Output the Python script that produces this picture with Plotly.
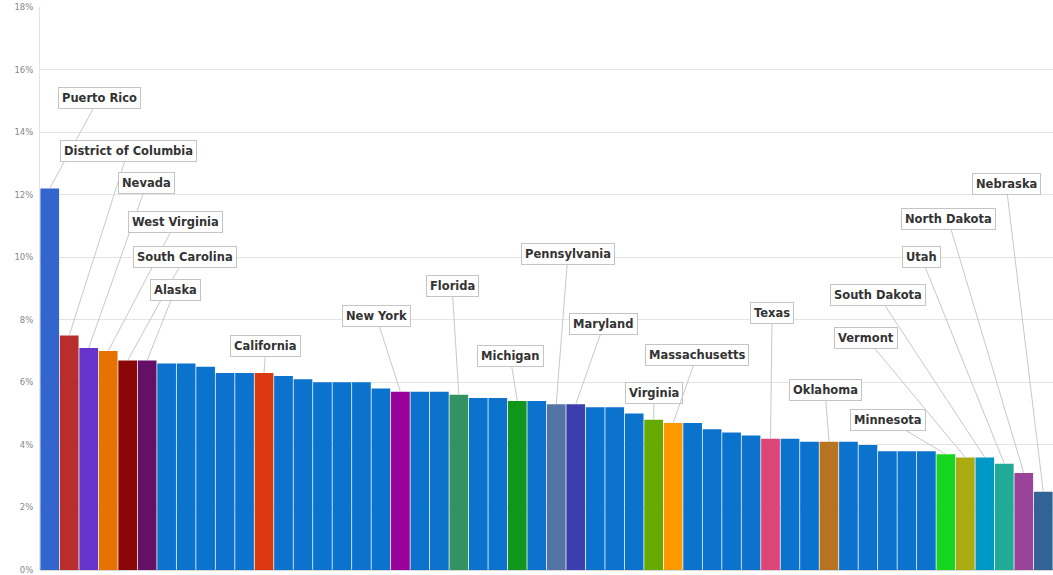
import plotly.graph_objects as go

states = [
    "Puerto Rico", "District of Columbia", "Nevada", "West Virginia", "South Carolina",
    "Alaska", "Mississippi", "Louisiana", "New Mexico", "Arizona", "Georgia",
    "California", "Alabama", "Illinois", "Oregon", "Tennessee", "Kentucky",
    "Rhode Island", "New York", "Connecticut", "Washington", "Florida", "New Jersey",
    "North Carolina", "Michigan", "Ohio", "Pennsylvania", "Maryland", "Indiana",
    "Delaware", "Missouri", "Virginia", "Massachusetts", "Arkansas", "Wisconsin",
    "Colorado", "Maine", "Texas", "Montana", "Kansas", "Oklahoma", "Wyoming",
    "Idaho", "Hawaii", "Iowa", "New Hampshire", "Minnesota", "Vermont",
    "South Dakota", "Utah", "North Dakota", "Nebraska",
]

rates = [
    12.2, 7.5, 7.1, 7.0, 6.7, 6.7, 6.6, 6.6, 6.5, 6.3, 6.3,
    6.3, 6.2, 6.1, 6.0, 6.0, 6.0, 5.8, 5.7, 5.7, 5.7, 5.6, 5.5,
    5.5, 5.4, 5.4, 5.3, 5.3, 5.2, 5.2, 5.0, 4.8, 4.7, 4.7, 4.5,
    4.4, 4.3, 4.2, 4.2, 4.1, 4.1, 4.1, 4.0, 3.8, 3.8, 3.8, 3.7,
    3.6, 3.6, 3.4, 3.1, 2.5,
]

highlight_colors = {
    "Puerto Rico": "#3366cc", "District of Columbia": "#b82e2e", "Nevada": "#6633cc",
    "West Virginia": "#e67300", "South Carolina": "#8b0707", "Alaska": "#651067",
    "California": "#dc3912", "New York": "#990099", "Florida": "#329262",
    "Michigan": "#109618", "Pennsylvania": "#5574a6", "Maryland": "#3b3eac",
    "Virginia": "#66aa00", "Massachusetts": "#ff9900", "Texas": "#dd4477",
    "Oklahoma": "#b77322", "Minnesota": "#16d620", "Vermont": "#aaaa11",
    "South Dakota": "#0099c6", "Utah": "#22aa99", "North Dakota": "#994499",
    "Nebraska": "#316395",
}
default_color = "#0b72ce"

y_tick_vals = [0, 2, 4, 6, 8, 10, 12, 14, 16, 18]
y_tick_text = ["0%", "2%", "4%", "6%", "8%", "10%", "12%", "14%", "16%", "18%"]

# label box positions (layout): category-index x, percent y
label_pos = {
    "Puerto Rico": (2.53, 15.09), "District of Columbia": (4.02, 13.40),
    "Nevada": (4.99, 12.37), "West Virginia": (6.48, 11.13),
    "South Carolina": (6.94, 10.01), "Alaska": (6.43, 8.95),
    "California": (11.10, 7.16), "New York": (16.75, 8.12),
    "Florida": (20.65, 9.08), "Michigan": (23.63, 6.84),
    "Pennsylvania": (26.60, 10.10), "Maryland": (28.45, 7.86),
    "Massachusetts": (33.23, 6.87), "Virginia": (31.02, 5.66),
    "Texas": (37.08, 8.22), "Oklahoma": (39.80, 5.75),
    "Minnesota": (43.03, 4.80), "Vermont": (41.90, 7.42),
    "South Dakota": (42.52, 8.79), "Utah": (44.73, 10.01),
    "North Dakota": (46.11, 11.22), "Nebraska": (49.09, 12.34),
}

colors = [highlight_colors.get(s, default_color) for s in states]

fig = go.Figure(go.Bar(
    x=states, y=rates, marker=dict(color=colors, line=dict(width=0)),
    hovertemplate="%{x}: %{y:.1f}%<extra></extra>",
))

annotations = []
for s, v in zip(states, rates):
    if s in label_pos:
        lx, ly = label_pos[s]
        annotations.append(dict(
            x=s, y=v, xref="x", yref="y",
            ax=lx, ay=ly, axref="x", ayref="y",
            text="<b>" + s + "</b>", showarrow=True, arrowhead=0, arrowwidth=1,
            arrowcolor="#c8c8c8", standoff=0,
            font=dict(family="DejaVu Sans, Verdana, sans-serif", size=11.5, color="#333"),
            bgcolor="white", bordercolor="#c4c4c4", borderwidth=1, borderpad=3,
        ))

fig.update_layout(
    width=1053, height=575,
    margin=dict(l=40, r=0, t=7, b=5),
    paper_bgcolor="white", plot_bgcolor="white",
    bargap=0.04, showlegend=False,
    annotations=annotations,
    font=dict(family="DejaVu Sans, Verdana, sans-serif"),
)
fig.update_xaxes(
    showticklabels=False, showgrid=False, zeroline=False,
    range=[-0.5, len(states) - 0.5], showline=False, ticks="",
)
fig.update_yaxes(
    range=[0, 18], tickvals=y_tick_vals, ticktext=y_tick_text,
    tickfont=dict(size=8.5, color="#888"), showgrid=True, gridcolor="#e4e4e4",
    gridwidth=1, zeroline=True, zerolinecolor="#d8d8d8", showline=True,
    linecolor="#e4e4e4", ticks="", ticklabelstandoff=4, ticklabeloverflow="allow",
)

fig.write_html(
    "out.html",
    config={"displayModeBar": False},
    post_script="document.body.style.margin='0';document.body.style.overflow='hidden';",
)
